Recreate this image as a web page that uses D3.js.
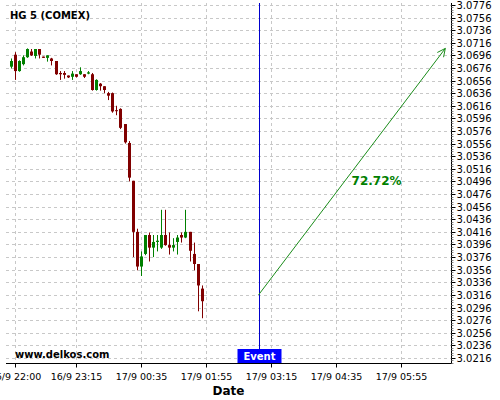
<!DOCTYPE html>
<html>
<head>
<meta charset="utf-8">
<script src="https://cdn.jsdelivr.net/npm/d3@7"></script>
<style>
  body { margin: 0; background: #fff; }
  svg { display: block; font-family: "DejaVu Sans", sans-serif; }
</style>
</head>
<body>
<div class="canvas"></div>
<script>
// candle times (5 min bars)
const times = [
  '16/9 21:55','16/9 22:00','16/9 22:05','16/9 22:10','16/9 22:15','16/9 22:20','16/9 22:25','16/9 22:30',
  '16/9 22:35','16/9 22:40','16/9 22:45','16/9 22:50','16/9 22:55','16/9 23:00','16/9 23:05','16/9 23:10',
  '16/9 23:15','16/9 23:20','16/9 23:25','16/9 23:30','16/9 23:35','16/9 23:40','16/9 23:45','16/9 23:50',
  '16/9 23:55','17/9 00:00','17/9 00:05','17/9 00:10','17/9 00:15','17/9 00:20','17/9 00:25','17/9 00:30',
  '17/9 00:35','17/9 00:40','17/9 00:45','17/9 00:50','17/9 00:55','17/9 01:00','17/9 01:05','17/9 01:10',
  '17/9 01:15','17/9 01:20','17/9 01:25','17/9 01:30','17/9 01:35','17/9 01:40','17/9 01:45','17/9 01:50'
];
const opens = [3.0678,3.0697,3.0671,3.0682,3.0693,3.0702,3.0695,3.0706,3.0694,3.0692,3.0691,3.0687,
  3.0668,3.0668,3.0664,3.0662,3.0666,3.0666,3.0666,3.0667,3.0666,3.0641,3.0651,3.0647,
  3.0636,3.0636,3.0609,3.0611,3.0587,3.0557,3.0497,3.0416,3.0361,3.0381,3.0411,3.0391,
  3.0400,3.0391,3.0411,3.0395,3.0391,3.0400,3.0411,3.0407,3.0416,3.0381,3.0365,3.0326];
const highs = [3.0691,3.0701,3.0688,3.0696,3.0707,3.0706,3.0706,3.0706,3.0694,3.0696,3.0692,3.0687,
  3.0671,3.0671,3.0664,3.0671,3.0666,3.0677,3.0666,3.0671,3.0668,3.0658,3.0652,3.0647,
  3.0638,3.0637,3.0616,3.0612,3.0587,3.0560,3.0497,3.0421,3.0385,3.0411,3.0415,3.0411,
  3.0411,3.0451,3.0451,3.0415,3.0406,3.0411,3.0415,3.0451,3.0416,3.0399,3.0365,3.0331];
const lows = [3.0675,3.0657,3.0670,3.0680,3.0692,3.0695,3.0691,3.0691,3.0692,3.0686,3.0680,3.0665,
  3.0657,3.0659,3.0660,3.0657,3.0661,3.0665,3.0660,3.0666,3.0640,3.0640,3.0640,3.0636,
  3.0625,3.0605,3.0601,3.0579,3.0556,3.0496,3.0376,3.0355,3.0346,3.0379,3.0369,3.0376,
  3.0385,3.0389,3.0394,3.0380,3.0385,3.0380,3.0399,3.0406,3.0369,3.0355,3.0290,3.0279];
const closes = [3.0687,3.0671,3.0687,3.0693,3.0706,3.0696,3.0706,3.0697,3.0692,3.0696,3.0687,3.0666,
  3.0666,3.0665,3.0661,3.0667,3.0662,3.0671,3.0662,3.0669,3.0641,3.0657,3.0647,3.0641,
  3.0632,3.0607,3.0608,3.0581,3.0558,3.0502,3.0416,3.0361,3.0377,3.0411,3.0391,3.0400,
  3.0402,3.0411,3.0395,3.0391,3.0395,3.0407,3.0407,3.0416,3.0386,3.0365,3.0331,3.0306];

// axis ticks
const xTickLabels = ['16/9 22:00','16/9 23:15','17/9 00:35','17/9 01:55','17/9 03:15','17/9 04:35','17/9 05:55'];
const yTickValues = [3.0216,3.0236,3.0256,3.0276,3.0296,3.0316,3.0336,3.0356,3.0376,3.0396,3.0416,3.0436,
  3.0456,3.0476,3.0496,3.0516,3.0536,3.0556,3.0576,3.0596,3.0616,3.0636,3.0656,3.0676,3.0696,3.0716,
  3.0736,3.0756,3.0776];
const xDomain = ['16/9 21:49','17/9 06:57'];
const yDomain = [3.0208, 3.0779];

// event + projection
const eventTime = '17/9 03:00';
const arrowFrom = { time: '17/9 03:00', value: 3.0316 };
const arrowTo = { time: '17/9 06:50', value: 3.0707 };
const pctLabel = '72.72%';
const title = 'HG 5 (COMEX)';

const dims = { w: 500, h: 400 };
const m = { top: 3, right: 49, bottom: 37, left: 6 };
const iw = dims.w - m.left - m.right;
const ih = dims.h - m.top - m.bottom;

const parse = d3.utcParse('%d/%m %H:%M');
const candles = times.map((t, i) => ({
  t: parse(t), o: opens[i], h: highs[i], l: lows[i], c: closes[i]
}));

const x = d3.scaleUtc().domain(xDomain.map(parse)).range([0, iw]);
const y = d3.scaleLinear().domain(yDomain).range([ih, 0]);

const svg = d3.select('.canvas')
  .append('svg')
    .attr('width', dims.w)
    .attr('height', dims.h);

const graph = svg.append('g')
  .attr('transform', `translate(${m.left},${m.top})`);

// grid
const xTicks = xTickLabels.map(parse);
graph.append('g')
  .selectAll('line.hg')
  .data(yTickValues)
  .join('line')
    .attr('x1', 0).attr('x2', iw)
    .attr('y1', d => Math.round(y(d)) + 0.5)
    .attr('y2', d => Math.round(y(d)) + 0.5)
    .attr('stroke', '#c8c8c8')
    .attr('stroke-dasharray', '3,3');

graph.append('g')
  .selectAll('line.vg')
  .data(xTicks)
  .join('line')
    .attr('x1', d => Math.round(x(d)) + 0.5)
    .attr('x2', d => Math.round(x(d)) + 0.5)
    .attr('y1', 0).attr('y2', ih)
    .attr('stroke', '#c8c8c8')
    .attr('stroke-dasharray', '3,3');

// candles
const up = '#008000', down = '#800000';
const cg = graph.append('g');
cg.selectAll('line.wick')
  .data(candles)
  .join('line')
    .attr('x1', d => Math.round(x(d.t)) + 0.5)
    .attr('x2', d => Math.round(x(d.t)) + 0.5)
    .attr('y1', d => y(d.h))
    .attr('y2', d => y(d.l))
    .attr('stroke', d => d.c >= d.o ? up : down)
    .attr('stroke-width', 1);

cg.selectAll('rect')
  .data(candles)
  .join('rect')
    .attr('x', d => Math.round(x(d.t)) - 1)
    .attr('width', 3)
    .attr('y', d => y(Math.max(d.o, d.c)))
    .attr('height', d => Math.max(1, Math.abs(y(d.o) - y(d.c))))
    .attr('fill', d => d.c >= d.o ? up : down);

// event line
const ex = Math.round(x(parse(eventTime))) + 0.5;
graph.append('line')
  .attr('x1', ex).attr('x2', ex)
  .attr('y1', 0).attr('y2', ih)
  .attr('stroke', '#0000cc');

// projection arrow
const ax1 = x(parse(arrowFrom.time)), ay1 = y(arrowFrom.value);
const ax2 = x(parse(arrowTo.time)), ay2 = y(arrowTo.value);
graph.append('line')
  .attr('x1', ax1).attr('y1', ay1)
  .attr('x2', ax2).attr('y2', ay2)
  .attr('stroke', '#1a8c1a');
const ang = Math.atan2(ay2 - ay1, ax2 - ax1);
const head = 9, spread = 0.45;
graph.append('path')
  .attr('d', `M${ax2 - head * Math.cos(ang - spread)},${ay2 - head * Math.sin(ang - spread)}`
    + `L${ax2},${ay2}L${ax2 - head * Math.cos(ang + spread)},${ay2 - head * Math.sin(ang + spread)}`)
  .attr('fill', 'none')
  .attr('stroke', '#1a8c1a');

const tp = 0.466;
graph.append('text')
  .attr('x', ax1 + (ax2 - ax1) * tp + 6)
  .attr('y', ay1 + (ay2 - ay1) * tp + 5)
  .attr('fill', '#008000')
  .attr('font-weight', 'bold')
  .attr('font-size', 12)
  .text(pctLabel);

// axes
const yAxis = graph.append('g')
  .attr('transform', `translate(${iw + 0.5},0)`);
yAxis.append('line')
  .attr('y1', 0).attr('y2', ih + 0.5)
  .attr('stroke', '#000');
yAxis.selectAll('line.minor')
  .data(d3.range(yTickValues[0] - 0.0008, yDomain[1], 0.0004))
  .join('line')
    .attr('x1', 0).attr('x2', 2)
    .attr('y1', d => Math.round(y(d)) + 0.5)
    .attr('y2', d => Math.round(y(d)) + 0.5)
    .attr('stroke', '#888');
const yt = yAxis.selectAll('g.tick')
  .data(yTickValues)
  .join('g')
    .attr('transform', d => `translate(0,${Math.round(y(d)) + 0.5})`);
yt.append('line').attr('x2', 4).attr('stroke', '#000');
yt.append('text')
  .attr('x', 5)
  .attr('dy', '0.35em')
  .attr('font-size', 10)
  .attr('fill', '#000')
  .text(d => d.toFixed(4));

const xAxis = graph.append('g')
  .attr('transform', `translate(0,${ih + 0.5})`);
xAxis.append('line')
  .attr('x1', 0).attr('x2', iw + 0.5)
  .attr('stroke', '#000');
const xt = xAxis.selectAll('g.tick')
  .data(xTicks)
  .join('g')
    .attr('transform', d => `translate(${Math.round(x(d)) + 0.5},0)`);
xt.append('line').attr('y2', 4).attr('stroke', '#000');
xt.append('text')
  .attr('y', 16)
  .attr('text-anchor', 'middle')
  .attr('font-size', 9.5)
  .attr('fill', '#000')
  .text((d, i) => xTickLabels[i]);

// event label
const evW = 44, evH = 14;
graph.append('rect')
  .attr('x', ex - evW / 2)
  .attr('y', ih - evH)
  .attr('width', evW)
  .attr('height', evH)
  .attr('fill', '#0000ff');
graph.append('text')
  .attr('x', ex)
  .attr('y', ih - 3)
  .attr('text-anchor', 'middle')
  .attr('fill', '#fff')
  .attr('font-weight', 'bold')
  .attr('font-size', 10)
  .text('Event');

// titles
svg.append('text')
  .attr('x', 10).attr('y', 19)
  .attr('font-weight', 'bold')
  .attr('font-size', 10)
  .text(title);

svg.append('text')
  .attr('x', 15).attr('y', 358)
  .attr('font-weight', 'bold')
  .attr('font-size', 10)
  .text('www.delkos.com');

svg.append('text')
  .attr('x', m.left + iw / 2).attr('y', 395)
  .attr('text-anchor', 'middle')
  .attr('font-weight', 'bold')
  .attr('font-size', 12)
  .text('Date');
</script>
</body>
</html>
